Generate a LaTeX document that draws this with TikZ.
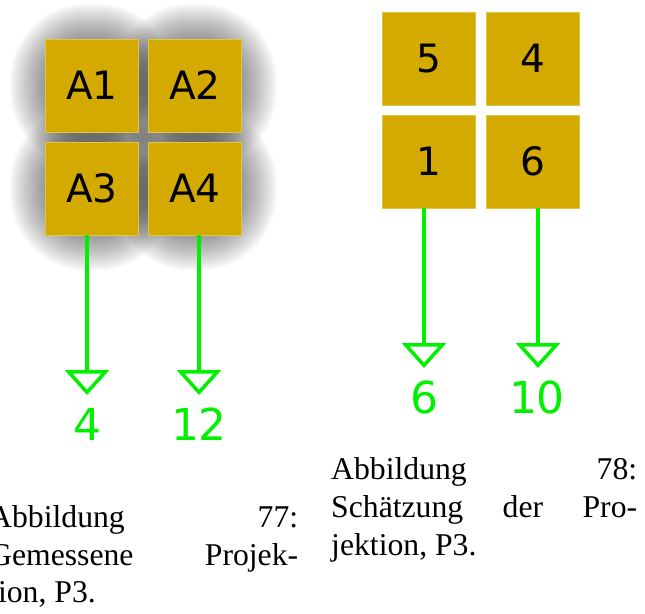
\documentclass[tikz,border=0pt]{standalone}
\usepackage{fontspec}
\setmainfont{Liberation Serif}
\newfontfamily\dejavu{DejaVu Sans}
\usetikzlibrary{arrows.meta,calc,backgrounds}
\definecolor{sq}{RGB}{212,170,0}
\definecolor{sqedge}{RGB}{226,196,70}
\definecolor{grn}{RGB}{0,240,0}
\newlength\capwl
\setlength\capwl{309pt}
\newlength\capwr
\setlength\capwr{306pt}
\tikzset{
  sqbox/.style={draw=sqedge, line width=0.8pt, minimum size=93pt, inner sep=0pt, fill=sq, text=black,
    font=\dejavu\fontsize{39}{39}\selectfont},
  arr/.style={draw=grn, line width=3.5pt, -{Triangle[open,length=25pt,width=44pt]}},
  numlbl/.style={text=grn, font=\dejavu\fontsize{44}{44}\selectfont, anchor=base, inner sep=0pt},
  capline/.style={font=\fontsize{31.7}{38}\selectfont, anchor=base west, inner sep=0pt},
  shadowlayer/.style={fill=black, opacity=0.026},
}
\begin{document}
\begin{tikzpicture}[x=1pt,y=-1pt]
\useasboundingbox (0,0) rectangle (645,613);
% left group
\node[sqbox] (a1) at (92,85.5) {A1};
\node[sqbox] (a2) at (195,85.5) {A2};
\node[sqbox] (a3) at (92,188.5) {A3};
\node[sqbox] (a4) at (195,188.5) {A4};
\begin{scope}[on background layer]
\foreach \n in {a1,a2,a3,a4}{
  \foreach \e in {35,33,...,1}{
    \pgfmathsetmacro\rr{\e+42}
    \fill[shadowlayer,rounded corners=\rr pt] ($(\n.south west)+(-\e,\e)$) rectangle ($(\n.north east)+(\e,-\e)$);
  }
}
\end{scope}
% right group
\node[sqbox] (b5) at (429,58.5) {5};
\node[sqbox] (b4) at (533,58.5) {4};
\node[sqbox] (b1) at (429,161.5) {1};
\node[sqbox] (b6) at (533,161.5) {6};
% arrows
\coordinate (t1) at (87,395);
\coordinate (t2) at (199,395);
\coordinate (t3) at (424,368);
\coordinate (t4) at (538,368);
\draw[arr] (a3.south -| t1) -- (t1);
\draw[arr] (a4.south -| t2) -- (t2);
\draw[arr] (b1.south -| t3) -- (t3);
\draw[arr] (b6.south -| t4) -- (t4);
\node[numlbl] (l1) at (87,440) {4};
\node[numlbl] (l2) at (199,440) {12};
\node[numlbl] (l3) at (424,413) {6};
\node[numlbl] (l4) at (537,413) {10};
% captions
\node[capline] (c1a) at (-11,527) {\hbox to \capwl{Abbildung\hfill 77:}};
\node[capline] (c1b) at (-11,565) {\hbox to \capwl{Gemessene\hfill Projek-}};
\node[capline] (c1c) at (-11,602) {tion, P3.};
\node[capline] (c2a) at (331,479) {\hbox to \capwr{Abbildung\hfill 78:}};
\node[capline] (c2b) at (331,517) {\hbox to \capwr{Schätzung\hfill der\hfill Pro-}};
\node[capline] (c2c) at (331,555) {jektion, P3.};
\end{tikzpicture}
\end{document}
